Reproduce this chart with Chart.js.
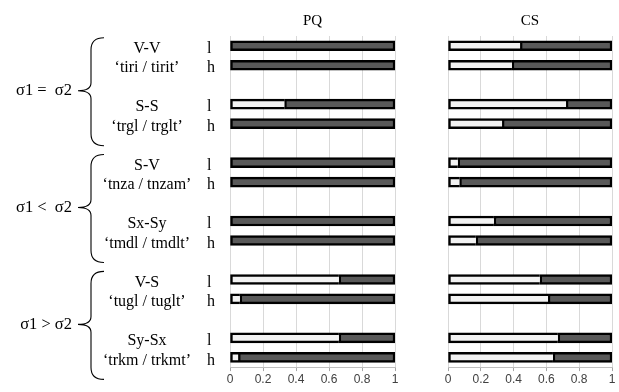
<!DOCTYPE html>
<html>
<head>
<meta charset="utf-8">
<script src="https://cdn.jsdelivr.net/npm/chart.js@4/dist/chart.umd.min.js"></script>
<style>
html,body{margin:0;padding:0;background:#fff;}
#wrap{position:relative;width:619px;height:392px;}
#wrap canvas{position:absolute;left:0;top:0;}
</style>
</head>
<body>
<div id="wrap">
<canvas id="pq" width="619" height="392"></canvas>
<canvas id="cs" width="619" height="392"></canvas>
</div>
<script>
// ---- data ----
const groups = ['σ1 =  σ2', 'σ1 <  σ2', 'σ1 > σ2'];
const pairs = ['V-V', 'S-S', 'S-V', 'Sx-Sy', 'V-S', 'Sy-Sx'];
const words = ['‘tiri / tirit’', '‘trgl / trglt’', '‘tnza / tnzam’', '‘tmdl / tmdlt’', '‘tugl / tuglt’', '‘trkm / trkmt’'];
const levels = ['l', 'h'];
const panelTitles = ['PQ', 'CS'];
const pqWhite = [0, 0, 0.33, 0, 0, 0, 0, 0, 0.66, 0.06, 0.66, 0.05];
const pqDark  = [1, 1, 0.67, 1, 1, 1, 1, 1, 0.34, 0.94, 0.34, 0.95];
const csWhite = [0.44, 0.39, 0.72, 0.33, 0.06, 0.07, 0.28, 0.17, 0.56, 0.61, 0.67, 0.64];
const csDark  = [0.56, 0.61, 0.28, 0.67, 0.94, 0.93, 0.72, 0.83, 0.44, 0.39, 0.33, 0.36];
const xTicks = [0, 0.2, 0.4, 0.6, 0.8, 1];
const xTickLabels = ['0', '0.2', '0.4', '0.6', '0.8', '1'];

// ---- build category slots (l, h, gap) ----
const slotLabels = [];
const slotRow = []; // row index or -1 for gap
pairs.forEach((p, i) => {
  levels.forEach((lv, j) => { slotLabels.push(lv); slotRow.push(i * 2 + j); });
  if (i < pairs.length - 1) { slotLabels.push(''); slotRow.push(-1); }
});
const toSlots = arr => slotRow.map(r => r < 0 ? null : arr[r]);
const rowSlot = r => slotRow.indexOf(r);

const SERIF = '"Liberation Serif", "Times New Roman", serif';
const SANS = '"Liberation Sans", Arial, sans-serif';

const leftLabels = {
  id: 'leftLabels',
  afterDraw(chart) {
    const ctx = chart.ctx, y = chart.scales.y;
    ctx.save();
    ctx.fillStyle = '#000';
    ctx.textBaseline = 'middle';
    ctx.font = '16px ' + SERIF;
    for (let r = 0; r < pairs.length * 2; r++) {
      const py = y.getPixelForValue(rowSlot(r)) + 3;
      ctx.textAlign = 'left';
      ctx.fillText(levels[r % 2], 207, py);
    }
    pairs.forEach((p, i) => {
      const yl = y.getPixelForValue(rowSlot(i * 2)) + 3;
      const yh = y.getPixelForValue(rowSlot(i * 2 + 1)) + 3;
      ctx.textAlign = 'center';
      ctx.fillText(p, 147, yl);
      ctx.fillText(words[i], 147, yh);
    });
    groups.forEach((g, k) => {
      const y0 = y.getPixelForValue(rowSlot(k * 4));
      const y1 = y.getPixelForValue(rowSlot(k * 4 + 3));
      const cy = (y0 + y1) / 2 + 6;
      ctx.textAlign = 'right';
      ctx.font = '16.5px ' + SERIF;
      ctx.fillText(g, 72, cy);
      const top = cy - 53, bot = cy + 55;
      const xs = 91, xe = 104, xt = 78;
      ctx.strokeStyle = '#000';
      ctx.lineWidth = 1.1;
      ctx.beginPath();
      ctx.moveTo(xe, top);
      ctx.quadraticCurveTo(xs, top, xs, top + 12);
      ctx.lineTo(xs, cy - 8);
      ctx.quadraticCurveTo(xs, cy, xt, cy);
      ctx.quadraticCurveTo(xs, cy, xs, cy + 8);
      ctx.lineTo(xs, bot - 12);
      ctx.quadraticCurveTo(xs, bot, xe, bot);
      ctx.stroke();
    });
    ctx.restore();
  }
};

function makeChart(id, title, white, dark, padLeft, padRight, plugins) {
  return new Chart(document.getElementById(id), {
    type: 'bar',
    data: {
      labels: slotLabels,
      datasets: [
        { data: toSlots(white), backgroundColor: '#f2f2f2', borderColor: '#000', borderWidth: 2.5, borderSkipped: 'end', barThickness: 10 },
        { data: toSlots(dark), backgroundColor: '#595959', borderColor: '#000', borderWidth: 2.5, borderSkipped: false, barThickness: 10 }
      ]
    },
    options: {
      indexAxis: 'y',
      responsive: false,
      animation: false,
      layout: { padding: { left: padLeft, right: padRight, top: 0, bottom: 4.5 } },
      plugins: {
        legend: { display: false },
        tooltip: { enabled: false },
        title: { display: true, text: title, color: '#000', font: { family: SERIF, size: 15, weight: 'normal' }, padding: { top: 12, bottom: 6 } }
      },
      scales: {
        x: {
          stacked: true, min: 0, max: 1,
          afterBuildTicks: s => { s.ticks = xTicks.map(v => ({ value: v })); },
          ticks: { color: '#404040', font: { family: SANS, size: 12 }, padding: 1, maxRotation: 0,
                   callback: (v, i) => xTickLabels[i] },
          grid: { color: '#d9d9d9', lineWidth: 1, tickLength: 4, tickColor: '#a6a6a6' },
          border: { display: true, color: '#bfbfbf' }
        },
        y: { stacked: true, display: false }
      }
    },
    plugins: plugins
  });
}

makeChart('pq', panelTitles[0], pqWhite, pqDark, 230, 224, [leftLabels]);
makeChart('cs', panelTitles[1], csWhite, csDark, 448, 7, []);
</script>
</body>
</html>
